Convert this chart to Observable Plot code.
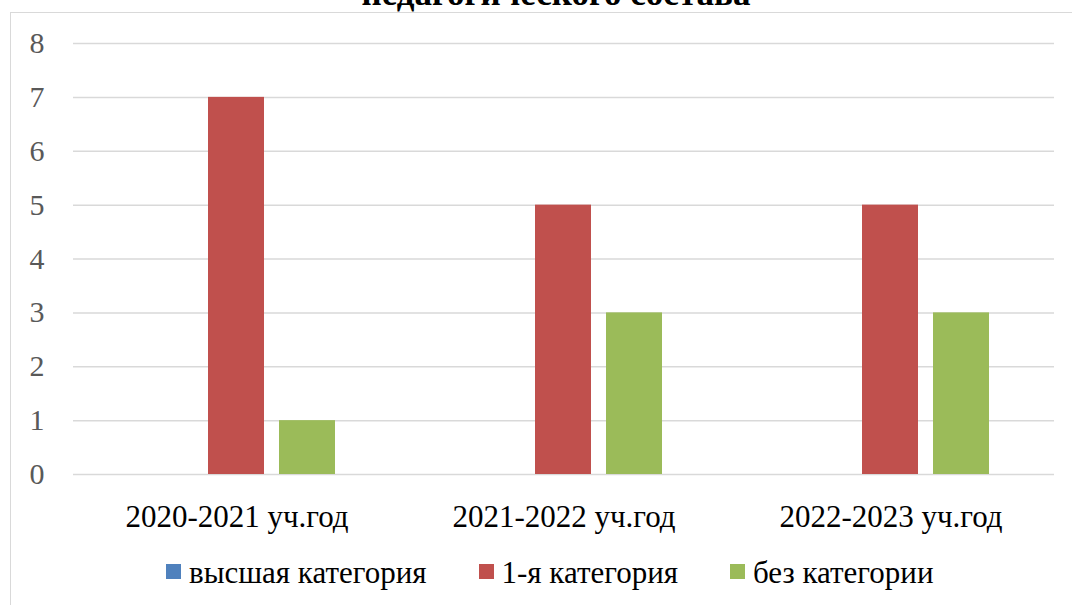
<!DOCTYPE html>
<html>
<head>
<meta charset="utf-8">
<script src="https://cdn.jsdelivr.net/npm/d3@7"></script>
<script src="https://cdn.jsdelivr.net/npm/@observablehq/plot@0.6"></script>
<style>
  html, body { margin: 0; padding: 0; background: #fff; overflow: hidden; width: 1072px; height: 605px; }
  #frame { position: absolute; left: 10px; top: 12px; width: 1100px; height: 700px; border: 1.5px solid #d9d9d9; box-sizing: border-box; }
  #title { position: absolute; left: 10px; width: 1092px; top: -24px; text-align: center; font-family: "Liberation Serif", "Times New Roman", serif; font-weight: bold; font-size: 35px; line-height: 35px; color: #000; white-space: nowrap; }
  #chart { position: absolute; left: 0; top: 0; }
  #chart svg, #chart svg text { font-family: "Liberation Serif", "Times New Roman", serif !important; }
  #legend { position: absolute; left: 166px; top: 558px; display: flex; font-family: "Liberation Serif", "Times New Roman", serif; font-size: 31px; line-height: 30px; color: #000; white-space: nowrap; }
  .item { display: flex; align-items: flex-start; margin-right: 52px; }
  .sw { width: 15px; height: 15px; margin-top: 6px; margin-right: 8px; }
</style>
</head>
<body>
<div id="frame"></div>
<div id="title">педагогического состава</div>
<div id="chart"></div>
<div id="legend"></div>
<script>
const years = ["2020-2021 уч.год", "2021-2022 уч.год", "2022-2023 уч.год"];
const seriesNames = ["высшая категория", "1-я категория", "без категории"];
const seriesColors = ["#4F81BD", "#C0504D", "#9BBB59"];
const highest = [0, 0, 0];
const first = [7, 5, 5];
const none = [1, 3, 3];
const yTicks = [0, 1, 2, 3, 4, 5, 6, 7, 8];

const seriesValues = [highest, first, none];
const data = [];
years.forEach((yr, i) => {
  seriesNames.forEach((s, j) => data.push({year: yr, series: s, value: seriesValues[j][i]}));
});

const chart = Plot.plot({
  width: 1072,
  height: 545,
  marginLeft: 72,
  marginRight: 17,
  marginTop: 43,
  marginBottom: 71,
  style: {fontSize: "30px", background: "transparent", overflow: "visible"},
  fx: {domain: years, padding: 0},
  x: {domain: seriesNames, paddingInner: 0.21, paddingOuter: 0.88, axis: null},
  y: {domain: [0, 8]},
  color: {domain: seriesNames, range: seriesColors},
  marks: [
    Plot.ruleY(yTicks, {stroke: "#d9d9d9", strokeWidth: 1.5}),
    Plot.barY(data, {fx: "year", x: "series", y: "value", fill: "series"}),
    Plot.axisY({ticks: yTicks, tickSize: 0, tickPadding: 29, fill: "#595959", label: null, fontSize: 30}),
    Plot.axisFx({tickSize: 0, tickPadding: 30, label: null, fill: "#000", anchor: "bottom", fontSize: 31})
  ]
});
document.getElementById("chart").appendChild(chart);

const legend = document.getElementById("legend");
seriesNames.forEach((s, i) => {
  const item = document.createElement("div");
  item.className = "item";
  const sw = document.createElement("div");
  sw.className = "sw";
  sw.style.background = seriesColors[i];
  const t = document.createElement("span");
  t.textContent = s;
  item.appendChild(sw);
  item.appendChild(t);
  legend.appendChild(item);
});
</script>
</body>
</html>
